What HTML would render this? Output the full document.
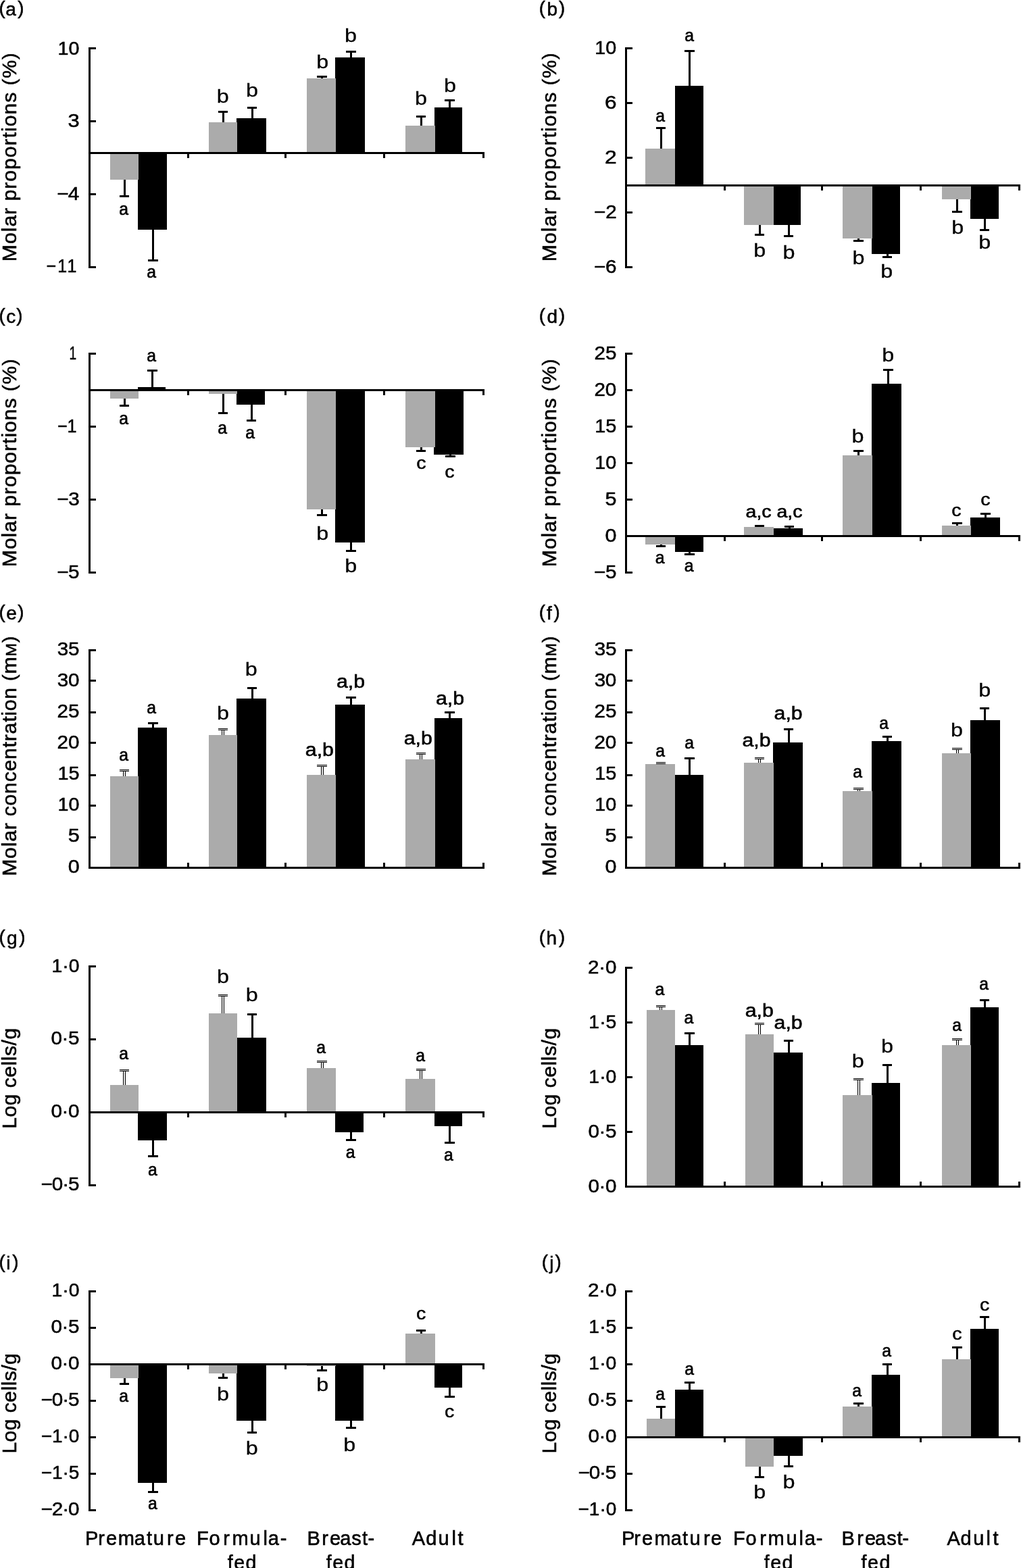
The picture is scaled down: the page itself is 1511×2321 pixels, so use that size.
<!DOCTYPE html>
<html><head><meta charset="utf-8"><title>Figure</title>
<style>
html,body{margin:0;padding:0;background:#fff;}
svg{display:block}
text{font-family:"Liberation Sans",sans-serif;fill:#000;stroke:#000;stroke-width:0.55px;}
</style></head><body>
<svg width="1511" height="2321" viewBox="0 0 1511 2321">
<rect x="0" y="0" width="1511" height="2321" fill="#fff"/>
<rect x="225" y="340" width="3" height="47" fill="#000"/>
<rect x="219" y="384" width="15" height="3" fill="#000"/>
<rect x="204" y="226" width="43" height="114" fill="#000"/>
<text transform="translate(217.23,411.00) scale(0.9300,1)" font-size="26.60" style="stroke-width:0.7px">a</text>
<rect x="183" y="266" width="3" height="26" fill="#000"/>
<rect x="177" y="289" width="14" height="3" fill="#000"/>
<rect x="163" y="226" width="42" height="40" fill="#ababab"/>
<text transform="translate(176.18,317.90) scale(0.9300,1)" font-size="26.60" style="stroke-width:0.7px">a</text>
<rect x="372" y="158" width="3" height="17" fill="#000"/>
<rect x="366" y="158" width="14" height="3" fill="#000"/>
<rect x="350" y="175" width="44" height="51" fill="#000"/>
<text transform="translate(363.96,143.10) scale(1.1400,1)" font-size="28.40" style="stroke-width:0.3px">b</text>
<rect x="329" y="164" width="3" height="17" fill="#000"/>
<rect x="323" y="164" width="14" height="3" fill="#000"/>
<rect x="309" y="181" width="42" height="45" fill="#ababab"/>
<text transform="translate(320.86,151.90) scale(1.1400,1)" font-size="28.40" style="stroke-width:0.3px">b</text>
<rect x="518" y="75" width="3" height="10" fill="#000"/>
<rect x="512" y="75" width="15" height="3" fill="#000"/>
<rect x="496" y="85" width="44" height="141" fill="#000"/>
<text transform="translate(509.96,61.90) scale(1.1400,1)" font-size="28.40" style="stroke-width:0.3px">b</text>
<rect x="475" y="112" width="3" height="4" fill="#000"/>
<rect x="469" y="112" width="15" height="3" fill="#000"/>
<rect x="454" y="116" width="43" height="110" fill="#ababab"/>
<text transform="translate(468.21,100.90) scale(1.1400,1)" font-size="28.40" style="stroke-width:0.3px">b</text>
<rect x="664" y="147" width="3" height="12" fill="#000"/>
<rect x="658" y="147" width="15" height="3" fill="#000"/>
<rect x="643" y="159" width="41" height="67" fill="#000"/>
<text transform="translate(657.06,136.10) scale(1.1400,1)" font-size="28.40" style="stroke-width:0.3px">b</text>
<rect x="622" y="171" width="3" height="15" fill="#000"/>
<rect x="616" y="171" width="14" height="3" fill="#000"/>
<rect x="600" y="186" width="44" height="40" fill="#ababab"/>
<text transform="translate(613.96,154.90) scale(1.1400,1)" font-size="28.40" style="stroke-width:0.3px">b</text>
<rect x="131" y="70" width="3" height="327" fill="#000"/>
<rect x="131" y="225" width="586" height="3" fill="#000"/>
<rect x="131" y="70" width="11" height="3" fill="#000"/>
<text transform="translate(85.50,80.90) scale(1.0361,1)" font-size="27.70">10</text>
<rect x="131" y="178" width="11" height="3" fill="#000"/>
<text transform="translate(100.62,188.40) scale(1.1138,1)" font-size="27.70">3</text>
<rect x="131" y="286" width="11" height="3" fill="#000"/>
<text transform="translate(84.17,296.20) scale(1.0700,1)" font-size="27.70" style="letter-spacing:-0.670px">−4</text>
<rect x="131" y="394" width="11" height="3" fill="#000"/>
<text transform="translate(68.60,403.20) scale(0.9000,1)" font-size="27.70" style="letter-spacing:2.434px">−11</text>
<rect x="277" y="226" width="3" height="8" fill="#000"/>
<rect x="421" y="226" width="3" height="8" fill="#000"/>
<rect x="567" y="226" width="3" height="8" fill="#000"/>
<rect x="714" y="226" width="3" height="8" fill="#000"/>
<text font-size="27.6"><tspan x="-1.46" y="21.30">(</tspan><tspan x="8.15" y="23.00" font-size="28.0">a</tspan><tspan x="26.19" y="21.30">)</tspan></text>
<text transform="translate(24.00,387.18) rotate(-90) scale(1.0400,1)" font-size="29.00" style="letter-spacing:0.954px">Molar proportions <tspan dy="-1.5" font-size="0.95em">(</tspan><tspan dy="1.5">%</tspan><tspan dy="-1.5" font-size="0.95em">)</tspan></text>
<rect x="1019" y="74" width="3" height="53" fill="#000"/>
<rect x="1013" y="74" width="15" height="3" fill="#000"/>
<rect x="999" y="127" width="42" height="147" fill="#000"/>
<text transform="translate(1013.28,60.90) scale(0.9300,1)" font-size="26.60" style="stroke-width:0.7px">a</text>
<rect x="977" y="188" width="3" height="32" fill="#000"/>
<rect x="971" y="188" width="14" height="3" fill="#000"/>
<rect x="955" y="220" width="44" height="54" fill="#ababab"/>
<text transform="translate(970.23,180.10) scale(0.9300,1)" font-size="26.60" style="stroke-width:0.7px">a</text>
<rect x="1166" y="333" width="3" height="18" fill="#000"/>
<rect x="1160" y="348" width="14" height="3" fill="#000"/>
<rect x="1144" y="274" width="41" height="59" fill="#000"/>
<text transform="translate(1158.46,383.00) scale(1.1400,1)" font-size="28.40" style="stroke-width:0.3px">b</text>
<rect x="1123" y="333" width="3" height="16" fill="#000"/>
<rect x="1117" y="346" width="14" height="3" fill="#000"/>
<rect x="1101" y="274" width="44" height="59" fill="#ababab"/>
<text transform="translate(1115.16,380.00) scale(1.1400,1)" font-size="28.40" style="stroke-width:0.3px">b</text>
<rect x="1312" y="376" width="3" height="6" fill="#000"/>
<rect x="1306" y="379" width="14" height="3" fill="#000"/>
<rect x="1290" y="274" width="42" height="102" fill="#000"/>
<text transform="translate(1303.16,411.00) scale(1.1400,1)" font-size="28.40" style="stroke-width:0.3px">b</text>
<rect x="1269" y="353" width="3" height="5" fill="#000"/>
<rect x="1263" y="355" width="15" height="3" fill="#000"/>
<rect x="1247" y="274" width="44" height="79" fill="#ababab"/>
<text transform="translate(1261.46,391.30) scale(1.1400,1)" font-size="28.40" style="stroke-width:0.3px">b</text>
<rect x="1456" y="324" width="3" height="18" fill="#000"/>
<rect x="1450" y="339" width="14" height="3" fill="#000"/>
<rect x="1436" y="274" width="42" height="50" fill="#000"/>
<text transform="translate(1448.31,368.20) scale(1.1400,1)" font-size="28.40" style="stroke-width:0.3px">b</text>
<rect x="1415" y="295" width="3" height="20" fill="#000"/>
<rect x="1409" y="312" width="15" height="3" fill="#000"/>
<rect x="1394" y="274" width="43" height="21" fill="#ababab"/>
<text transform="translate(1408.31,346.10) scale(1.1400,1)" font-size="28.40" style="stroke-width:0.3px">b</text>
<rect x="925" y="70" width="3" height="327" fill="#000"/>
<rect x="925" y="273" width="585" height="3" fill="#000"/>
<rect x="925" y="70" width="11" height="3" fill="#000"/>
<text transform="translate(880.35,80.30) scale(1.0361,1)" font-size="27.70">10</text>
<rect x="925" y="151" width="11" height="3" fill="#000"/>
<text transform="translate(895.12,161.30) scale(1.1380,1)" font-size="27.70">6</text>
<rect x="925" y="232" width="11" height="3" fill="#000"/>
<text transform="translate(895.11,242.10) scale(1.1505,1)" font-size="27.70">2</text>
<rect x="925" y="313" width="11" height="3" fill="#000"/>
<text transform="translate(879.02,323.10) scale(1.0700,1)" font-size="27.70" style="letter-spacing:-0.116px">−2</text>
<rect x="925" y="394" width="11" height="3" fill="#000"/>
<text transform="translate(879.02,404.00) scale(1.0700,1)" font-size="27.70" style="letter-spacing:-0.255px">−6</text>
<rect x="1071" y="274" width="3" height="8" fill="#000"/>
<rect x="1215" y="274" width="3" height="8" fill="#000"/>
<rect x="1361" y="274" width="3" height="8" fill="#000"/>
<rect x="1507" y="274" width="3" height="8" fill="#000"/>
<text font-size="27.6"><tspan x="797.64" y="21.30">(</tspan><tspan x="809.38" y="23.00" font-size="28.0">b</tspan><tspan x="827.09" y="21.30">)</tspan></text>
<text transform="translate(823.00,387.18) rotate(-90) scale(1.0400,1)" font-size="29.00" style="letter-spacing:0.954px">Molar proportions <tspan dy="-1.5" font-size="0.95em">(</tspan><tspan dy="1.5">%</tspan><tspan dy="-1.5" font-size="0.95em">)</tspan></text>
<rect x="224" y="547" width="3" height="26" fill="#000"/>
<rect x="218" y="547" width="15" height="3" fill="#000"/>
<rect x="204" y="573" width="41" height="4" fill="#000"/>
<text transform="translate(217.18,534.50) scale(0.9300,1)" font-size="26.60" style="stroke-width:0.7px">a</text>
<rect x="183" y="590" width="3" height="12" fill="#000"/>
<rect x="177" y="599" width="14" height="3" fill="#000"/>
<rect x="163" y="577" width="42" height="13" fill="#ababab"/>
<text transform="translate(176.28,627.60) scale(0.9300,1)" font-size="26.60" style="stroke-width:0.7px">a</text>
<rect x="371" y="599" width="3" height="25" fill="#000"/>
<rect x="365" y="621" width="14" height="3" fill="#000"/>
<rect x="350" y="577" width="42" height="22" fill="#000"/>
<text transform="translate(363.28,649.00) scale(0.9300,1)" font-size="26.60" style="stroke-width:0.7px">a</text>
<rect x="329" y="583" width="3" height="30" fill="#000"/>
<rect x="323" y="610" width="14" height="3" fill="#000"/>
<rect x="309" y="577" width="42" height="6" fill="#ababab"/>
<text transform="translate(322.28,641.70) scale(0.9300,1)" font-size="26.60" style="stroke-width:0.7px">a</text>
<rect x="518" y="803" width="3" height="14" fill="#000"/>
<rect x="512" y="814" width="15" height="3" fill="#000"/>
<rect x="496" y="577" width="44" height="226" fill="#000"/>
<text transform="translate(510.31,847.40) scale(1.1400,1)" font-size="28.40" style="stroke-width:0.3px">b</text>
<rect x="475" y="754" width="3" height="10" fill="#000"/>
<rect x="469" y="761" width="15" height="3" fill="#000"/>
<rect x="454" y="577" width="43" height="177" fill="#ababab"/>
<text transform="translate(468.21,798.60) scale(1.1400,1)" font-size="28.40" style="stroke-width:0.3px">b</text>
<rect x="665" y="673" width="3" height="4" fill="#000"/>
<rect x="659" y="674" width="15" height="3" fill="#000"/>
<rect x="642" y="577" width="44" height="96" fill="#000"/>
<text transform="translate(658.16,707.10) scale(1.1000,1)" font-size="26.00" style="stroke-width:0.5px">c</text>
<rect x="622" y="662" width="3" height="7" fill="#000"/>
<rect x="616" y="666" width="14" height="3" fill="#000"/>
<rect x="600" y="577" width="44" height="85" fill="#ababab"/>
<text transform="translate(616.26,694.20) scale(1.1000,1)" font-size="26.00" style="stroke-width:0.5px">c</text>
<rect x="131" y="522" width="3" height="327" fill="#000"/>
<rect x="131" y="576" width="586" height="3" fill="#000"/>
<rect x="131" y="522" width="11" height="3" fill="#000"/>
<text transform="translate(102.62,532.30) scale(0.6884,1)" font-size="27.70">1</text>
<rect x="131" y="630" width="11" height="3" fill="#000"/>
<text transform="translate(84.90,640.30) scale(0.9060,1)" font-size="27.70">−1</text>
<rect x="131" y="738" width="11" height="3" fill="#000"/>
<text transform="translate(84.17,748.20) scale(1.0700,1)" font-size="27.70" style="letter-spacing:-0.255px">−3</text>
<rect x="131" y="846" width="11" height="3" fill="#000"/>
<text transform="translate(84.17,856.10) scale(1.0700,1)" font-size="27.70" style="letter-spacing:-0.393px">−5</text>
<rect x="277" y="577" width="3" height="8" fill="#000"/>
<rect x="421" y="577" width="3" height="8" fill="#000"/>
<rect x="567" y="577" width="3" height="8" fill="#000"/>
<rect x="714" y="577" width="3" height="8" fill="#000"/>
<text font-size="27.6"><tspan x="-1.46" y="476.10">(</tspan><tspan x="9.27" y="477.80" font-size="28.0">c</tspan><tspan x="24.19" y="476.10">)</tspan></text>
<text transform="translate(24.00,839.18) rotate(-90) scale(1.0400,1)" font-size="29.00" style="letter-spacing:0.906px">Molar proportions <tspan dy="-1.5" font-size="0.95em">(</tspan><tspan dy="1.5">%</tspan><tspan dy="-1.5" font-size="0.95em">)</tspan></text>
<rect x="1019" y="817" width="3" height="5" fill="#000"/>
<rect x="1013" y="819" width="15" height="3" fill="#000"/>
<rect x="999" y="793" width="42" height="24" fill="#000"/>
<text transform="translate(1012.63,846.40) scale(0.9300,1)" font-size="26.60" style="stroke-width:0.7px">a</text>
<rect x="977" y="806" width="3" height="4" fill="#000"/>
<rect x="971" y="807" width="14" height="3" fill="#000"/>
<rect x="955" y="793" width="44" height="13" fill="#ababab"/>
<text transform="translate(969.63,833.80) scale(0.9300,1)" font-size="26.60" style="stroke-width:0.7px">a</text>
<rect x="1167" y="778" width="3" height="4" fill="#000"/>
<rect x="1161" y="778" width="14" height="3" fill="#000"/>
<rect x="1144" y="782" width="44" height="11" fill="#000"/>
<text transform="translate(1149.50,765.90) scale(1.0800,1)" font-size="26.40" style="stroke-width:0.6px">a,c</text>
<rect x="1123" y="777" width="3" height="3" fill="#000"/>
<rect x="1117" y="777" width="14" height="3" fill="#000"/>
<rect x="1101" y="780" width="44" height="13" fill="#ababab"/>
<text transform="translate(1103.55,765.90) scale(1.0800,1)" font-size="26.40" style="stroke-width:0.6px">a,c</text>
<rect x="1313" y="546" width="3" height="22" fill="#000"/>
<rect x="1307" y="546" width="15" height="3" fill="#000"/>
<rect x="1290" y="568" width="44" height="225" fill="#000"/>
<text transform="translate(1305.16,535.00) scale(1.1400,1)" font-size="28.40" style="stroke-width:0.3px">b</text>
<rect x="1269" y="666" width="3" height="8" fill="#000"/>
<rect x="1263" y="666" width="15" height="3" fill="#000"/>
<rect x="1247" y="674" width="44" height="119" fill="#ababab"/>
<text transform="translate(1260.41,655.20) scale(1.1400,1)" font-size="28.40" style="stroke-width:0.3px">b</text>
<rect x="1457" y="759" width="3" height="7" fill="#000"/>
<rect x="1451" y="759" width="15" height="3" fill="#000"/>
<rect x="1436" y="766" width="44" height="27" fill="#000"/>
<text transform="translate(1451.16,747.80) scale(1.1000,1)" font-size="26.00" style="stroke-width:0.5px">c</text>
<rect x="1415" y="773" width="3" height="5" fill="#000"/>
<rect x="1409" y="773" width="15" height="3" fill="#000"/>
<rect x="1394" y="778" width="43" height="15" fill="#ababab"/>
<text transform="translate(1408.36,764.10) scale(1.1000,1)" font-size="26.00" style="stroke-width:0.5px">c</text>
<rect x="925" y="522" width="3" height="327" fill="#000"/>
<rect x="925" y="792" width="585" height="3" fill="#000"/>
<rect x="925" y="522" width="11" height="3" fill="#000"/>
<text transform="translate(879.42,532.30) scale(1.0700,1)" font-size="27.70" style="letter-spacing:0.064px">25</text>
<rect x="925" y="576" width="11" height="3" fill="#000"/>
<text transform="translate(879.42,586.20) scale(1.0700,1)" font-size="27.70" style="letter-spacing:-0.075px">20</text>
<rect x="925" y="630" width="11" height="3" fill="#000"/>
<text transform="translate(880.34,640.20) scale(1.0413,1)" font-size="27.70">15</text>
<rect x="925" y="684" width="11" height="3" fill="#000"/>
<text transform="translate(880.35,694.10) scale(1.0361,1)" font-size="27.70">10</text>
<rect x="925" y="738" width="11" height="3" fill="#000"/>
<text transform="translate(895.48,748.10) scale(1.1020,1)" font-size="27.70">5</text>
<rect x="925" y="792" width="11" height="3" fill="#000"/>
<text transform="translate(895.48,802.10) scale(1.1020,1)" font-size="27.70">0</text>
<rect x="925" y="846" width="11" height="3" fill="#000"/>
<text transform="translate(879.02,856.10) scale(1.0700,1)" font-size="27.70" style="letter-spacing:-0.393px">−5</text>
<rect x="1071" y="793" width="3" height="8" fill="#000"/>
<rect x="1215" y="793" width="3" height="8" fill="#000"/>
<rect x="1361" y="793" width="3" height="8" fill="#000"/>
<rect x="1507" y="793" width="3" height="8" fill="#000"/>
<text font-size="27.6"><tspan x="797.64" y="476.10">(</tspan><tspan x="809.58" y="477.80" font-size="28.0">d</tspan><tspan x="827.09" y="476.10">)</tspan></text>
<text transform="translate(823.00,839.18) rotate(-90) scale(1.0400,1)" font-size="29.00" style="letter-spacing:0.906px">Molar proportions <tspan dy="-1.5" font-size="0.95em">(</tspan><tspan dy="1.5">%</tspan><tspan dy="-1.5" font-size="0.95em">)</tspan></text>
<rect x="225" y="1069" width="3" height="8" fill="#000"/>
<rect x="219" y="1069" width="15" height="3" fill="#000"/>
<rect x="204" y="1077" width="43" height="208" fill="#000"/>
<text transform="translate(217.18,1055.80) scale(0.9300,1)" font-size="26.60" style="stroke-width:0.7px">a</text>
<rect x="182" y="1139" width="4" height="10" fill="#000"/>
<rect x="183" y="1140" width="2" height="9" fill="#e8e8e8"/>
<rect x="177" y="1139" width="14" height="3" fill="#000"/>
<rect x="177" y="1140" width="14" height="1" fill="#e8e8e8"/>
<rect x="163" y="1149" width="42" height="136" fill="#ababab"/>
<text transform="translate(176.28,1125.90) scale(0.9300,1)" font-size="26.60" style="stroke-width:0.7px">a</text>
<rect x="372" y="1017" width="3" height="17" fill="#000"/>
<rect x="366" y="1017" width="14" height="3" fill="#000"/>
<rect x="350" y="1034" width="44" height="251" fill="#000"/>
<text transform="translate(362.66,999.90) scale(1.1400,1)" font-size="28.40" style="stroke-width:0.3px">b</text>
<rect x="328" y="1078" width="4" height="10" fill="#000"/>
<rect x="329" y="1079" width="2" height="9" fill="#e8e8e8"/>
<rect x="323" y="1078" width="14" height="3" fill="#000"/>
<rect x="323" y="1079" width="14" height="1" fill="#e8e8e8"/>
<rect x="309" y="1088" width="42" height="197" fill="#ababab"/>
<text transform="translate(320.96,1065.10) scale(1.1400,1)" font-size="28.40" style="stroke-width:0.3px">b</text>
<rect x="518" y="1031" width="3" height="12" fill="#000"/>
<rect x="512" y="1031" width="15" height="3" fill="#000"/>
<rect x="496" y="1043" width="44" height="242" fill="#000"/>
<text transform="translate(497.91,1018.30) scale(1.0900,1)" font-size="27.80" style="stroke-width:0.6px">a,b</text>
<rect x="475" y="1132" width="4" height="15" fill="#000"/>
<rect x="476" y="1133" width="2" height="14" fill="#e8e8e8"/>
<rect x="469" y="1132" width="15" height="3" fill="#000"/>
<rect x="469" y="1133" width="15" height="1" fill="#e8e8e8"/>
<rect x="454" y="1147" width="43" height="138" fill="#ababab"/>
<text transform="translate(451.81,1119.10) scale(1.0900,1)" font-size="27.80" style="stroke-width:0.6px">a,b</text>
<rect x="664" y="1053" width="3" height="10" fill="#000"/>
<rect x="658" y="1053" width="15" height="3" fill="#000"/>
<rect x="643" y="1063" width="41" height="222" fill="#000"/>
<text transform="translate(644.96,1043.40) scale(1.0900,1)" font-size="27.80" style="stroke-width:0.6px">a,b</text>
<rect x="621" y="1114" width="4" height="10" fill="#000"/>
<rect x="622" y="1115" width="2" height="9" fill="#e8e8e8"/>
<rect x="616" y="1114" width="14" height="3" fill="#000"/>
<rect x="616" y="1115" width="14" height="1" fill="#e8e8e8"/>
<rect x="600" y="1124" width="44" height="161" fill="#ababab"/>
<text transform="translate(597.66,1101.50) scale(1.0900,1)" font-size="27.80" style="stroke-width:0.6px">a,b</text>
<rect x="131" y="961" width="3" height="325" fill="#000"/>
<rect x="131" y="1283" width="586" height="3" fill="#000"/>
<rect x="131" y="961" width="11" height="3" fill="#000"/>
<text transform="translate(84.86,970.20) scale(1.0700,1)" font-size="27.70" style="letter-spacing:-0.213px">35</text>
<rect x="131" y="1006" width="11" height="3" fill="#000"/>
<text transform="translate(84.86,1016.24) scale(1.0700,1)" font-size="27.70" style="letter-spacing:-0.352px">30</text>
<rect x="131" y="1053" width="11" height="3" fill="#000"/>
<text transform="translate(84.57,1062.28) scale(1.0700,1)" font-size="27.70" style="letter-spacing:0.064px">25</text>
<rect x="131" y="1098" width="11" height="3" fill="#000"/>
<text transform="translate(84.57,1108.32) scale(1.0700,1)" font-size="27.70" style="letter-spacing:-0.075px">20</text>
<rect x="131" y="1146" width="11" height="3" fill="#000"/>
<text transform="translate(85.49,1154.36) scale(1.0413,1)" font-size="27.70">15</text>
<rect x="131" y="1191" width="11" height="3" fill="#000"/>
<text transform="translate(85.50,1200.40) scale(1.0361,1)" font-size="27.70">10</text>
<rect x="131" y="1238" width="11" height="3" fill="#000"/>
<text transform="translate(100.63,1246.44) scale(1.1020,1)" font-size="27.70">5</text>
<rect x="131" y="1283" width="11" height="3" fill="#000"/>
<text transform="translate(100.63,1292.48) scale(1.1020,1)" font-size="27.70">0</text>
<rect x="277" y="1277" width="3" height="8" fill="#000"/>
<rect x="421" y="1277" width="3" height="8" fill="#000"/>
<rect x="567" y="1277" width="3" height="8" fill="#000"/>
<rect x="714" y="1277" width="3" height="8" fill="#000"/>
<text font-size="27.6"><tspan x="-1.46" y="915.10">(</tspan><tspan x="9.28" y="916.80" font-size="28.0">e</tspan><tspan x="26.19" y="915.10">)</tspan></text>
<text transform="translate(24.00,1296.78) rotate(-90) scale(1.0400,1)" font-size="29.00" style="letter-spacing:0.753px">Molar concentration <tspan dy="-1.5" font-size="0.95em">(</tspan><tspan dy="1.5">m</tspan><tspan font-size="0.78em">M</tspan><tspan dy="-1.5" font-size="0.95em">)</tspan></text>
<rect x="1019" y="1121" width="3" height="26" fill="#000"/>
<rect x="1013" y="1121" width="15" height="3" fill="#000"/>
<rect x="999" y="1147" width="42" height="138" fill="#000"/>
<text transform="translate(1013.28,1107.80) scale(0.9300,1)" font-size="26.60" style="stroke-width:0.7px">a</text>
<rect x="976" y="1128" width="4" height="3" fill="#000"/>
<rect x="977" y="1129" width="2" height="2" fill="#e8e8e8"/>
<rect x="971" y="1128" width="14" height="3" fill="#000"/>
<rect x="971" y="1129" width="14" height="1" fill="#e8e8e8"/>
<rect x="955" y="1131" width="44" height="154" fill="#ababab"/>
<text transform="translate(970.23,1119.90) scale(0.9300,1)" font-size="26.60" style="stroke-width:0.7px">a</text>
<rect x="1166" y="1078" width="3" height="21" fill="#000"/>
<rect x="1160" y="1078" width="14" height="3" fill="#000"/>
<rect x="1144" y="1099" width="44" height="186" fill="#000"/>
<text transform="translate(1145.56,1065.10) scale(1.0900,1)" font-size="27.80" style="stroke-width:0.6px">a,b</text>
<rect x="1122" y="1121" width="4" height="8" fill="#000"/>
<rect x="1123" y="1122" width="2" height="7" fill="#e8e8e8"/>
<rect x="1117" y="1121" width="14" height="3" fill="#000"/>
<rect x="1117" y="1122" width="14" height="1" fill="#e8e8e8"/>
<rect x="1101" y="1129" width="44" height="156" fill="#ababab"/>
<text transform="translate(1098.51,1104.80) scale(1.0900,1)" font-size="27.80" style="stroke-width:0.6px">a,b</text>
<rect x="1312" y="1089" width="3" height="8" fill="#000"/>
<rect x="1306" y="1089" width="14" height="3" fill="#000"/>
<rect x="1290" y="1097" width="44" height="188" fill="#000"/>
<text transform="translate(1301.23,1078.90) scale(0.9300,1)" font-size="26.60" style="stroke-width:0.7px">a</text>
<rect x="1269" y="1166" width="4" height="5" fill="#000"/>
<rect x="1270" y="1167" width="2" height="4" fill="#e8e8e8"/>
<rect x="1263" y="1166" width="15" height="3" fill="#000"/>
<rect x="1263" y="1167" width="15" height="1" fill="#e8e8e8"/>
<rect x="1247" y="1171" width="44" height="114" fill="#ababab"/>
<text transform="translate(1262.28,1150.60) scale(0.9300,1)" font-size="26.60" style="stroke-width:0.7px">a</text>
<rect x="1456" y="1047" width="3" height="19" fill="#000"/>
<rect x="1450" y="1047" width="14" height="3" fill="#000"/>
<rect x="1436" y="1066" width="44" height="219" fill="#000"/>
<text transform="translate(1448.31,1031.10) scale(1.1400,1)" font-size="28.40" style="stroke-width:0.3px">b</text>
<rect x="1415" y="1107" width="4" height="8" fill="#000"/>
<rect x="1416" y="1108" width="2" height="7" fill="#e8e8e8"/>
<rect x="1409" y="1107" width="15" height="3" fill="#000"/>
<rect x="1409" y="1108" width="15" height="1" fill="#e8e8e8"/>
<rect x="1394" y="1115" width="43" height="170" fill="#ababab"/>
<text transform="translate(1407.06,1090.20) scale(1.1400,1)" font-size="28.40" style="stroke-width:0.3px">b</text>
<rect x="925" y="961" width="3" height="325" fill="#000"/>
<rect x="925" y="1283" width="585" height="3" fill="#000"/>
<rect x="925" y="961" width="11" height="3" fill="#000"/>
<text transform="translate(879.71,970.20) scale(1.0700,1)" font-size="27.70" style="letter-spacing:-0.213px">35</text>
<rect x="925" y="1006" width="11" height="3" fill="#000"/>
<text transform="translate(879.71,1016.24) scale(1.0700,1)" font-size="27.70" style="letter-spacing:-0.352px">30</text>
<rect x="925" y="1053" width="11" height="3" fill="#000"/>
<text transform="translate(879.42,1062.28) scale(1.0700,1)" font-size="27.70" style="letter-spacing:0.064px">25</text>
<rect x="925" y="1098" width="11" height="3" fill="#000"/>
<text transform="translate(879.42,1108.32) scale(1.0700,1)" font-size="27.70" style="letter-spacing:-0.075px">20</text>
<rect x="925" y="1146" width="11" height="3" fill="#000"/>
<text transform="translate(880.34,1154.36) scale(1.0413,1)" font-size="27.70">15</text>
<rect x="925" y="1191" width="11" height="3" fill="#000"/>
<text transform="translate(880.35,1200.40) scale(1.0361,1)" font-size="27.70">10</text>
<rect x="925" y="1238" width="11" height="3" fill="#000"/>
<text transform="translate(895.48,1246.44) scale(1.1020,1)" font-size="27.70">5</text>
<rect x="925" y="1283" width="11" height="3" fill="#000"/>
<text transform="translate(895.48,1292.48) scale(1.1020,1)" font-size="27.70">0</text>
<rect x="1071" y="1277" width="3" height="8" fill="#000"/>
<rect x="1215" y="1277" width="3" height="8" fill="#000"/>
<rect x="1361" y="1277" width="3" height="8" fill="#000"/>
<rect x="1507" y="1277" width="3" height="8" fill="#000"/>
<text font-size="27.6"><tspan x="797.64" y="915.10">(</tspan><tspan x="808.92" y="916.80" font-size="28.0">f</tspan><tspan x="819.39" y="915.10">)</tspan></text>
<text transform="translate(823.00,1296.78) rotate(-90) scale(1.0400,1)" font-size="29.00" style="letter-spacing:0.753px">Molar concentration <tspan dy="-1.5" font-size="0.95em">(</tspan><tspan dy="1.5">m</tspan><tspan font-size="0.78em">M</tspan><tspan dy="-1.5" font-size="0.95em">)</tspan></text>
<rect x="225" y="1688" width="3" height="25" fill="#000"/>
<rect x="219" y="1710" width="15" height="3" fill="#000"/>
<rect x="204" y="1646" width="43" height="42" fill="#000"/>
<text transform="translate(219.08,1739.80) scale(0.9300,1)" font-size="26.60" style="stroke-width:0.7px">a</text>
<rect x="182" y="1583" width="4" height="23" fill="#000"/>
<rect x="183" y="1584" width="2" height="22" fill="#e8e8e8"/>
<rect x="177" y="1583" width="14" height="3" fill="#000"/>
<rect x="177" y="1584" width="14" height="1" fill="#e8e8e8"/>
<rect x="163" y="1606" width="42" height="40" fill="#ababab"/>
<text transform="translate(176.28,1567.80) scale(0.9300,1)" font-size="26.60" style="stroke-width:0.7px">a</text>
<rect x="372" y="1500" width="3" height="36" fill="#000"/>
<rect x="366" y="1500" width="14" height="3" fill="#000"/>
<rect x="350" y="1536" width="44" height="110" fill="#000"/>
<text transform="translate(363.66,1482.30) scale(1.1400,1)" font-size="28.40" style="stroke-width:0.3px">b</text>
<rect x="328" y="1472" width="4" height="28" fill="#000"/>
<rect x="329" y="1473" width="2" height="27" fill="#e8e8e8"/>
<rect x="323" y="1472" width="14" height="3" fill="#000"/>
<rect x="323" y="1473" width="14" height="1" fill="#e8e8e8"/>
<rect x="309" y="1500" width="42" height="146" fill="#ababab"/>
<text transform="translate(320.96,1455.30) scale(1.1400,1)" font-size="28.40" style="stroke-width:0.3px">b</text>
<rect x="518" y="1676" width="3" height="13" fill="#000"/>
<rect x="512" y="1686" width="15" height="3" fill="#000"/>
<rect x="496" y="1646" width="42" height="30" fill="#000"/>
<text transform="translate(511.68,1714.10) scale(0.9300,1)" font-size="26.60" style="stroke-width:0.7px">a</text>
<rect x="475" y="1570" width="4" height="11" fill="#000"/>
<rect x="476" y="1571" width="2" height="10" fill="#e8e8e8"/>
<rect x="469" y="1570" width="15" height="3" fill="#000"/>
<rect x="469" y="1571" width="15" height="1" fill="#e8e8e8"/>
<rect x="454" y="1581" width="43" height="65" fill="#ababab"/>
<text transform="translate(468.13,1559.00) scale(0.9300,1)" font-size="26.60" style="stroke-width:0.7px">a</text>
<rect x="664" y="1667" width="3" height="26" fill="#000"/>
<rect x="658" y="1690" width="15" height="3" fill="#000"/>
<rect x="643" y="1646" width="41" height="21" fill="#000"/>
<text transform="translate(656.98,1717.90) scale(0.9300,1)" font-size="26.60" style="stroke-width:0.7px">a</text>
<rect x="621" y="1582" width="4" height="15" fill="#000"/>
<rect x="622" y="1583" width="2" height="14" fill="#e8e8e8"/>
<rect x="616" y="1582" width="14" height="3" fill="#000"/>
<rect x="616" y="1583" width="14" height="1" fill="#e8e8e8"/>
<rect x="600" y="1597" width="44" height="49" fill="#ababab"/>
<text transform="translate(615.28,1570.80) scale(0.9300,1)" font-size="26.60" style="stroke-width:0.7px">a</text>
<rect x="131" y="1429" width="3" height="327" fill="#000"/>
<rect x="131" y="1645" width="586" height="3" fill="#000"/>
<rect x="131" y="1429" width="11" height="3" fill="#000"/>
<text transform="translate(76.52,1438.60) scale(1.0233,1)" font-size="27.70">1·0</text>
<rect x="131" y="1537" width="11" height="3" fill="#000"/>
<text transform="translate(75.56,1546.40) scale(1.0700,1)" font-size="27.70" style="letter-spacing:-0.401px">0·5</text>
<rect x="131" y="1645" width="11" height="3" fill="#000"/>
<text transform="translate(75.56,1654.20) scale(1.0700,1)" font-size="27.70" style="letter-spacing:-0.401px">0·0</text>
<rect x="131" y="1753" width="11" height="3" fill="#000"/>
<text transform="translate(60.57,1762.00) scale(1.0700,1)" font-size="27.70" style="letter-spacing:-0.997px">−0·5</text>
<rect x="277" y="1646" width="3" height="8" fill="#000"/>
<rect x="421" y="1646" width="3" height="8" fill="#000"/>
<rect x="567" y="1646" width="3" height="8" fill="#000"/>
<rect x="714" y="1646" width="3" height="8" fill="#000"/>
<text font-size="27.6"><tspan x="-1.46" y="1396.10">(</tspan><tspan x="10.03" y="1397.80" font-size="28.0">g</tspan><tspan x="28.19" y="1396.10">)</tspan></text>
<text transform="translate(24.00,1670.81) rotate(-90) scale(1.0400,1)" font-size="29.00" style="letter-spacing:0.462px">Log cells/g</text>
<rect x="1019" y="1528" width="3" height="19" fill="#000"/>
<rect x="1013" y="1528" width="15" height="3" fill="#000"/>
<rect x="999" y="1547" width="42" height="209" fill="#000"/>
<text transform="translate(1012.48,1514.70) scale(0.9300,1)" font-size="26.60" style="stroke-width:0.7px">a</text>
<rect x="976" y="1488" width="4" height="7" fill="#000"/>
<rect x="977" y="1489" width="2" height="6" fill="#e8e8e8"/>
<rect x="971" y="1488" width="14" height="3" fill="#000"/>
<rect x="971" y="1489" width="14" height="1" fill="#e8e8e8"/>
<rect x="957" y="1495" width="42" height="261" fill="#ababab"/>
<text transform="translate(969.38,1473.40) scale(0.9300,1)" font-size="26.60" style="stroke-width:0.7px">a</text>
<rect x="1166" y="1539" width="3" height="19" fill="#000"/>
<rect x="1160" y="1539" width="14" height="3" fill="#000"/>
<rect x="1144" y="1558" width="44" height="198" fill="#000"/>
<text transform="translate(1145.56,1523.00) scale(1.0900,1)" font-size="27.80" style="stroke-width:0.6px">a,b</text>
<rect x="1122" y="1514" width="4" height="17" fill="#000"/>
<rect x="1123" y="1515" width="2" height="16" fill="#e8e8e8"/>
<rect x="1117" y="1514" width="14" height="3" fill="#000"/>
<rect x="1117" y="1515" width="14" height="1" fill="#e8e8e8"/>
<rect x="1103" y="1531" width="42" height="225" fill="#ababab"/>
<text transform="translate(1102.66,1505.40) scale(1.0900,1)" font-size="27.80" style="stroke-width:0.6px">a,b</text>
<rect x="1312" y="1575" width="3" height="28" fill="#000"/>
<rect x="1306" y="1575" width="14" height="3" fill="#000"/>
<rect x="1290" y="1603" width="42" height="153" fill="#000"/>
<text transform="translate(1303.96,1558.20) scale(1.1400,1)" font-size="28.40" style="stroke-width:0.3px">b</text>
<rect x="1269" y="1596" width="4" height="25" fill="#000"/>
<rect x="1270" y="1597" width="2" height="24" fill="#e8e8e8"/>
<rect x="1263" y="1596" width="15" height="3" fill="#000"/>
<rect x="1263" y="1597" width="15" height="1" fill="#e8e8e8"/>
<rect x="1247" y="1621" width="44" height="135" fill="#ababab"/>
<text transform="translate(1260.66,1580.30) scale(1.1400,1)" font-size="28.40" style="stroke-width:0.3px">b</text>
<rect x="1456" y="1479" width="3" height="12" fill="#000"/>
<rect x="1450" y="1479" width="14" height="3" fill="#000"/>
<rect x="1436" y="1491" width="42" height="265" fill="#000"/>
<text transform="translate(1449.28,1464.60) scale(0.9300,1)" font-size="26.60" style="stroke-width:0.7px">a</text>
<rect x="1415" y="1537" width="4" height="10" fill="#000"/>
<rect x="1416" y="1538" width="2" height="9" fill="#e8e8e8"/>
<rect x="1409" y="1537" width="15" height="3" fill="#000"/>
<rect x="1409" y="1538" width="15" height="1" fill="#e8e8e8"/>
<rect x="1394" y="1547" width="43" height="209" fill="#ababab"/>
<text transform="translate(1409.18,1526.30) scale(0.9300,1)" font-size="26.60" style="stroke-width:0.7px">a</text>
<rect x="925" y="1431" width="3" height="327" fill="#000"/>
<rect x="925" y="1755" width="585" height="3" fill="#000"/>
<rect x="925" y="1431" width="11" height="3" fill="#000"/>
<text transform="translate(870.12,1441.20) scale(1.0700,1)" font-size="27.70" style="letter-spacing:-0.262px">2·0</text>
<rect x="925" y="1512" width="11" height="3" fill="#000"/>
<text transform="translate(871.37,1522.10) scale(1.0233,1)" font-size="27.70">1·5</text>
<rect x="925" y="1593" width="11" height="3" fill="#000"/>
<text transform="translate(871.37,1603.00) scale(1.0233,1)" font-size="27.70">1·0</text>
<rect x="925" y="1674" width="11" height="3" fill="#000"/>
<text transform="translate(870.41,1683.90) scale(1.0700,1)" font-size="27.70" style="letter-spacing:-0.401px">0·5</text>
<rect x="925" y="1755" width="11" height="3" fill="#000"/>
<text transform="translate(870.41,1764.70) scale(1.0700,1)" font-size="27.70" style="letter-spacing:-0.401px">0·0</text>
<rect x="1071" y="1749" width="3" height="7" fill="#000"/>
<rect x="1215" y="1749" width="3" height="7" fill="#000"/>
<rect x="1361" y="1749" width="3" height="7" fill="#000"/>
<rect x="1507" y="1749" width="3" height="7" fill="#000"/>
<text font-size="27.6"><tspan x="797.64" y="1396.10">(</tspan><tspan x="808.56" y="1397.80" font-size="28.0">h</tspan><tspan x="827.09" y="1396.10">)</tspan></text>
<text transform="translate(823.00,1670.81) rotate(-90) scale(1.0400,1)" font-size="29.00" style="letter-spacing:0.462px">Log cells/g</text>
<rect x="225" y="2195" width="3" height="15" fill="#000"/>
<rect x="219" y="2207" width="15" height="3" fill="#000"/>
<rect x="204" y="2019" width="43" height="176" fill="#000"/>
<text transform="translate(219.08,2233.90) scale(0.9300,1)" font-size="26.60" style="stroke-width:0.7px">a</text>
<rect x="183" y="2040" width="3" height="10" fill="#000"/>
<rect x="177" y="2047" width="14" height="3" fill="#000"/>
<rect x="163" y="2019" width="42" height="21" fill="#ababab"/>
<text transform="translate(176.28,2075.00) scale(0.9300,1)" font-size="26.60" style="stroke-width:0.7px">a</text>
<rect x="372" y="2103" width="3" height="19" fill="#000"/>
<rect x="366" y="2119" width="14" height="3" fill="#000"/>
<rect x="350" y="2019" width="44" height="84" fill="#000"/>
<text transform="translate(363.81,2152.90) scale(1.1400,1)" font-size="28.40" style="stroke-width:0.3px">b</text>
<rect x="329" y="2033" width="3" height="8" fill="#000"/>
<rect x="323" y="2038" width="14" height="3" fill="#000"/>
<rect x="309" y="2019" width="42" height="14" fill="#ababab"/>
<text transform="translate(320.96,2072.50) scale(1.1400,1)" font-size="28.40" style="stroke-width:0.3px">b</text>
<rect x="518" y="2103" width="3" height="12" fill="#000"/>
<rect x="512" y="2112" width="15" height="3" fill="#000"/>
<rect x="496" y="2019" width="42" height="84" fill="#000"/>
<text transform="translate(508.26,2148.40) scale(1.1400,1)" font-size="28.40" style="stroke-width:0.3px">b</text>
<rect x="475" y="2022" width="3" height="8" fill="#000"/>
<rect x="469" y="2027" width="15" height="3" fill="#000"/>
<rect x="454" y="2019" width="43" height="3" fill="#ababab"/>
<text transform="translate(468.21,2058.60) scale(1.1400,1)" font-size="28.40" style="stroke-width:0.3px">b</text>
<rect x="664" y="2054" width="3" height="15" fill="#000"/>
<rect x="658" y="2066" width="15" height="3" fill="#000"/>
<rect x="643" y="2019" width="41" height="35" fill="#000"/>
<text transform="translate(658.01,2098.10) scale(1.1000,1)" font-size="26.00" style="stroke-width:0.5px">c</text>
<rect x="622" y="1968" width="3" height="6" fill="#000"/>
<rect x="616" y="1968" width="14" height="3" fill="#000"/>
<rect x="600" y="1974" width="44" height="45" fill="#ababab"/>
<text transform="translate(616.01,1953.00) scale(1.1000,1)" font-size="26.00" style="stroke-width:0.5px">c</text>
<rect x="131" y="1910" width="3" height="327" fill="#000"/>
<rect x="131" y="2018" width="586" height="3" fill="#000"/>
<rect x="131" y="1910" width="11" height="3" fill="#000"/>
<text transform="translate(76.52,1919.30) scale(1.0233,1)" font-size="27.70">1·0</text>
<rect x="131" y="1964" width="11" height="3" fill="#000"/>
<text transform="translate(75.56,1973.20) scale(1.0700,1)" font-size="27.70" style="letter-spacing:-0.401px">0·5</text>
<rect x="131" y="2018" width="11" height="3" fill="#000"/>
<text transform="translate(75.56,2027.10) scale(1.0700,1)" font-size="27.70" style="letter-spacing:-0.401px">0·0</text>
<rect x="131" y="2072" width="11" height="3" fill="#000"/>
<text transform="translate(60.57,2081.00) scale(1.0700,1)" font-size="27.70" style="letter-spacing:-0.997px">−0·5</text>
<rect x="131" y="2126" width="11" height="3" fill="#000"/>
<text transform="translate(60.65,2135.00) scale(1.0105,1)" font-size="27.70">−1·0</text>
<rect x="131" y="2180" width="11" height="3" fill="#000"/>
<text transform="translate(60.65,2189.00) scale(1.0105,1)" font-size="27.70">−1·5</text>
<rect x="131" y="2234" width="11" height="3" fill="#000"/>
<text transform="translate(60.57,2243.00) scale(1.0700,1)" font-size="27.70" style="letter-spacing:-0.997px">−2·0</text>
<rect x="277" y="2019" width="3" height="8" fill="#000"/>
<rect x="421" y="2019" width="3" height="8" fill="#000"/>
<rect x="567" y="2019" width="3" height="8" fill="#000"/>
<rect x="714" y="2019" width="3" height="8" fill="#000"/>
<text font-size="27.6"><tspan x="-1.46" y="1877.10">(</tspan><tspan x="9.37" y="1878.80" font-size="28.0">i</tspan><tspan x="18.19" y="1877.10">)</tspan></text>
<text transform="translate(24.00,2151.61) rotate(-90) scale(1.0400,1)" font-size="29.00" style="letter-spacing:0.414px">Log cells/g</text>
<rect x="1019" y="2045" width="3" height="12" fill="#000"/>
<rect x="1013" y="2045" width="15" height="3" fill="#000"/>
<rect x="999" y="2057" width="42" height="70" fill="#000"/>
<text transform="translate(1013.28,2035.20) scale(0.9300,1)" font-size="26.60" style="stroke-width:0.7px">a</text>
<rect x="977" y="2081" width="3" height="19" fill="#000"/>
<rect x="971" y="2081" width="14" height="3" fill="#000"/>
<rect x="957" y="2100" width="42" height="27" fill="#ababab"/>
<text transform="translate(970.23,2071.70) scale(0.9300,1)" font-size="26.60" style="stroke-width:0.7px">a</text>
<rect x="1166" y="2155" width="3" height="17" fill="#000"/>
<rect x="1160" y="2169" width="14" height="3" fill="#000"/>
<rect x="1144" y="2127" width="44" height="28" fill="#000"/>
<text transform="translate(1158.46,2203.00) scale(1.1400,1)" font-size="28.40" style="stroke-width:0.3px">b</text>
<rect x="1123" y="2171" width="3" height="17" fill="#000"/>
<rect x="1117" y="2185" width="14" height="3" fill="#000"/>
<rect x="1103" y="2127" width="42" height="44" fill="#ababab"/>
<text transform="translate(1115.16,2218.10) scale(1.1400,1)" font-size="28.40" style="stroke-width:0.3px">b</text>
<rect x="1312" y="2018" width="3" height="17" fill="#000"/>
<rect x="1306" y="2018" width="14" height="3" fill="#000"/>
<rect x="1290" y="2035" width="42" height="92" fill="#000"/>
<text transform="translate(1305.28,2008.10) scale(0.9300,1)" font-size="26.60" style="stroke-width:0.7px">a</text>
<rect x="1269" y="2076" width="3" height="6" fill="#000"/>
<rect x="1263" y="2076" width="15" height="3" fill="#000"/>
<rect x="1247" y="2082" width="44" height="45" fill="#ababab"/>
<text transform="translate(1261.28,2066.70) scale(0.9300,1)" font-size="26.60" style="stroke-width:0.7px">a</text>
<rect x="1456" y="1948" width="3" height="19" fill="#000"/>
<rect x="1450" y="1948" width="14" height="3" fill="#000"/>
<rect x="1436" y="1967" width="42" height="160" fill="#000"/>
<text transform="translate(1450.11,1940.20) scale(1.1000,1)" font-size="26.00" style="stroke-width:0.5px">c</text>
<rect x="1415" y="1993" width="3" height="19" fill="#000"/>
<rect x="1409" y="1993" width="15" height="3" fill="#000"/>
<rect x="1394" y="2012" width="43" height="115" fill="#ababab"/>
<text transform="translate(1409.16,1982.90) scale(1.1000,1)" font-size="26.00" style="stroke-width:0.5px">c</text>
<rect x="925" y="1910" width="3" height="327" fill="#000"/>
<rect x="925" y="2126" width="585" height="3" fill="#000"/>
<rect x="925" y="1910" width="11" height="3" fill="#000"/>
<text transform="translate(870.12,1919.30) scale(1.0700,1)" font-size="27.70" style="letter-spacing:-0.262px">2·0</text>
<rect x="925" y="1964" width="11" height="3" fill="#000"/>
<text transform="translate(871.37,1973.20) scale(1.0233,1)" font-size="27.70">1·5</text>
<rect x="925" y="2018" width="11" height="3" fill="#000"/>
<text transform="translate(871.37,2027.10) scale(1.0233,1)" font-size="27.70">1·0</text>
<rect x="925" y="2072" width="11" height="3" fill="#000"/>
<text transform="translate(870.41,2081.00) scale(1.0700,1)" font-size="27.70" style="letter-spacing:-0.401px">0·5</text>
<rect x="925" y="2126" width="11" height="3" fill="#000"/>
<text transform="translate(870.41,2135.00) scale(1.0700,1)" font-size="27.70" style="letter-spacing:-0.401px">0·0</text>
<rect x="925" y="2180" width="11" height="3" fill="#000"/>
<text transform="translate(855.42,2189.00) scale(1.0700,1)" font-size="27.70" style="letter-spacing:-0.997px">−0·5</text>
<rect x="925" y="2234" width="11" height="3" fill="#000"/>
<text transform="translate(855.50,2243.00) scale(1.0105,1)" font-size="27.70">−1·0</text>
<rect x="1071" y="2127" width="3" height="8" fill="#000"/>
<rect x="1215" y="2127" width="3" height="8" fill="#000"/>
<rect x="1361" y="2127" width="3" height="8" fill="#000"/>
<rect x="1507" y="2127" width="3" height="8" fill="#000"/>
<text font-size="27.6"><tspan x="801.64" y="1877.10">(</tspan><tspan x="813.23" y="1878.80" font-size="28.0">j</tspan><tspan x="821.39" y="1877.10">)</tspan></text>
<text transform="translate(823.00,2151.61) rotate(-90) scale(1.0400,1)" font-size="29.00" style="letter-spacing:0.414px">Log cells/g</text>
<text x="125.9 145.3 157.0 174.7 198.8 217.1 226.7 247.1 259.1" y="2287.10" font-size="29.00" style="stroke-width:0.6px">Premature</text>
<text x="291.0 309.6 330.2 343.4 369.5 389.4 396.8 414.7" y="2287.10" font-size="29.00" style="stroke-width:0.6px">Formula-</text>
<text x="336.7 346.3 363.4" y="2323.00" font-size="28.60" style="stroke-width:0.6px">fed</text>
<text x="454.4 476.3 487.9 503.2 520.2 536.1 544.5" y="2287.10" font-size="29.00" style="stroke-width:0.6px">Breast-</text>
<text x="482.8 492.3 509.5" y="2323.00" font-size="28.60" style="stroke-width:0.6px">fed</text>
<text x="609.7 630.3 648.5 668.4 677.4" y="2287.10" font-size="29.00" style="stroke-width:0.6px">Adult</text>
<text x="920.0 938.3 950.0 968.4 992.8 1010.1 1020.6 1041.1 1052.1" y="2287.10" font-size="29.00" style="stroke-width:0.6px">Premature</text>
<text x="1085.1 1103.6 1124.3 1136.5 1163.5 1182.6 1190.8 1207.7" y="2287.10" font-size="29.00" style="stroke-width:0.6px">Formula-</text>
<text x="1130.8 1140.3 1157.5" y="2323.00" font-size="28.60" style="stroke-width:0.6px">fed</text>
<text x="1245.4 1268.2 1280.1 1294.9 1312.2 1327.5 1335.6" y="2287.10" font-size="29.00" style="stroke-width:0.6px">Breast-</text>
<text x="1274.6 1284.1 1301.4" y="2323.00" font-size="28.60" style="stroke-width:0.6px">fed</text>
<text x="1401.6 1421.4 1440.3 1459.4 1469.6" y="2287.10" font-size="29.00" style="stroke-width:0.6px">Adult</text>
</svg>
</body></html>
